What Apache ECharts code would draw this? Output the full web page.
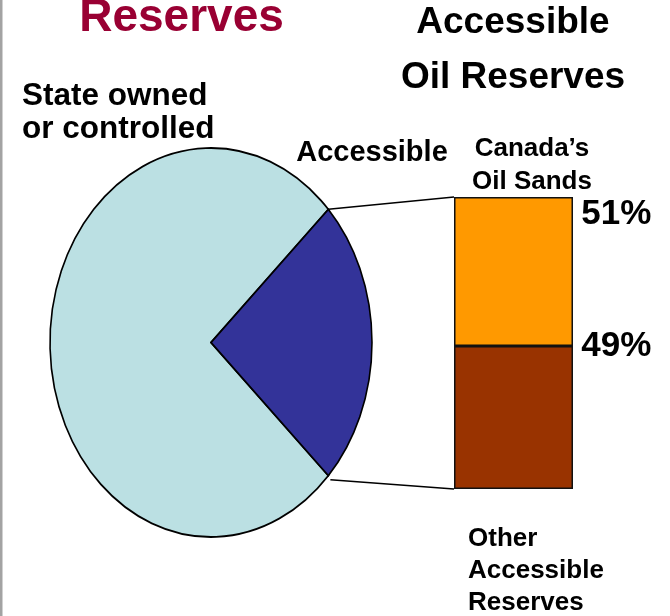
<!DOCTYPE html>
<html>
<head>
<meta charset="utf-8">
<script src="https://cdn.jsdelivr.net/npm/echarts@6/dist/echarts.min.js"></script>
<style>
  html, body { margin: 0; padding: 0; background: #ffffff; }
  #chart { width: 670px; height: 616px; }
</style>
</head>
<body>
<div id="chart"></div>
<script>
// Split of world oil reserves (percent)
const pieNames = ['State owned or controlled', 'Accessible'];
const pieShares = [76, 24];
const pieColors = ['#BBE0E3', '#333399'];

// Break-down of the accessible share (percent), bottom segment first
const barCategories = ['Accessible Oil Reserves'];
const otherAccessible = [49];
const canadaOilSands = [51];

// Ellipse layout of the pie
const PIE_CX = 211, PIE_CY = 342.5, PIE_RX = 161, PIE_RY = 194.5;
// Stacked column layout
const BAR_LEFT = 454, BAR_TOP = 197, BAR_W = 119, BAR_H = 292;

const FONT = '"Liberation Sans", Arial, Helvetica, sans-serif';

const chart = echarts.init(document.getElementById('chart'), null, { renderer: 'canvas' });

const total = pieShares.reduce((a, b) => a + b, 0);
// The accessible slice is centred on the 3 o'clock direction
const halfAcc = pieShares[1] / total * Math.PI;

function sliceAngles(i) {
  if (i === 1) return [-halfAcc, halfAcc];
  return [halfAcc, 2 * Math.PI - halfAcc];
}

function txt(text, x, y, size, opts) {
  opts = opts || {};
  return {
    type: 'text',
    x: x, y: y,
    style: {
      text: text,
      font: 'bold ' + size + 'px ' + FONT,
      fill: opts.color || '#000000',
      align: opts.align || 'center',
      verticalAlign: 'middle',
      lineHeight: opts.lineHeight || size * 1.15
    }
  };
}

const option = {
  backgroundColor: '#ffffff',
  animation: false,
  grid: { left: BAR_LEFT, top: BAR_TOP, width: BAR_W, height: BAR_H },
  xAxis: { type: 'category', data: barCategories, show: false },
  yAxis: { type: 'value', min: 0, max: 100, show: false },
  series: [
    {
      type: 'custom',
      name: 'Oil reserves',
      coordinateSystem: 'none',
      data: pieShares.map((v, i) => ({ name: pieNames[i], value: v })),
      renderItem: function (params) {
        const i = params.dataIndex;
        const a = sliceAngles(i);
        return {
          type: 'group',
          x: PIE_CX, y: PIE_CY,
          scaleX: 1, scaleY: PIE_RY / PIE_RX,
          children: [{
            type: 'sector',
            shape: { cx: 0, cy: 0, r0: 0, r: PIE_RX, startAngle: a[0], endAngle: a[1], clockwise: true },
            style: { fill: pieColors[i], stroke: '#000000', lineWidth: 1.6, strokeNoScale: true }
          }]
        };
      }
    },
    {
      type: 'bar',
      name: 'Other Accessible Reserves',
      stack: 'acc',
      barWidth: '100%',
      data: otherAccessible,
      itemStyle: { color: '#993300', borderColor: '#111111', borderWidth: 1.5 },
      label: {
        show: true, formatter: '{c}%', position: ['107%', 0],
        align: 'left', verticalAlign: 'middle',
        fontSize: 35, fontWeight: 'bold', fontFamily: FONT, color: '#000000'
      }
    },
    {
      type: 'bar',
      name: "Canada's Oil Sands",
      stack: 'acc',
      barWidth: '100%',
      data: canadaOilSands,
      itemStyle: { color: '#FF9900', borderColor: '#111111', borderWidth: 1.5 },
      label: {
        show: true, formatter: '{c}%', position: ['107%', 17],
        align: 'left', verticalAlign: 'middle',
        fontSize: 35, fontWeight: 'bold', fontFamily: FONT, color: '#000000'
      }
    }
  ]
};

chart.setOption(option);

// Connector lines from the edges of the accessible slice to the column corners
const upEdge = [PIE_CX + PIE_RX * Math.cos(halfAcc), PIE_CY - PIE_RY * Math.sin(halfAcc)];
const lowEdge = [PIE_CX + PIE_RX * Math.cos(halfAcc), PIE_CY + PIE_RY * Math.sin(halfAcc)];
const colTop = chart.convertToPixel({ xAxisIndex: 0, yAxisIndex: 0 }, [0, otherAccessible[0] + canadaOilSands[0]]);
const colBottom = chart.convertToPixel({ xAxisIndex: 0, yAxisIndex: 0 }, [0, 0]);

chart.setOption({
  graphic: [
    { type: 'rect', shape: { x: 0, y: 0, width: 2.5, height: 616 }, style: { fill: '#a3a3a3' } },
    { type: 'line', shape: { x1: upEdge[0], y1: upEdge[1], x2: BAR_LEFT, y2: colTop[1] }, style: { stroke: '#000000', lineWidth: 1.5 } },
    { type: 'line', shape: { x1: lowEdge[0] + 2, y1: lowEdge[1] + 4, x2: BAR_LEFT, y2: colBottom[1] }, style: { stroke: '#000000', lineWidth: 1.5 } },
    txt('Reserves', 181.5, 18, 46, { color: '#990033' }),
    txt('Accessible\nOil Reserves', 513, 50, 37, { lineHeight: 55 }),
    txt('State owned\nor controlled', 22, 113, 31.5, { align: 'left', lineHeight: 33 }),
    txt('Accessible', 372, 152.5, 29),
    txt('Canada\u2019s\nOil Sands', 532, 165, 26, { lineHeight: 33 }),
    txt('Other\nAccessible\nReserves', 468, 571, 26, { align: 'left', lineHeight: 32 })
  ]
});
</script>
</body>
</html>
